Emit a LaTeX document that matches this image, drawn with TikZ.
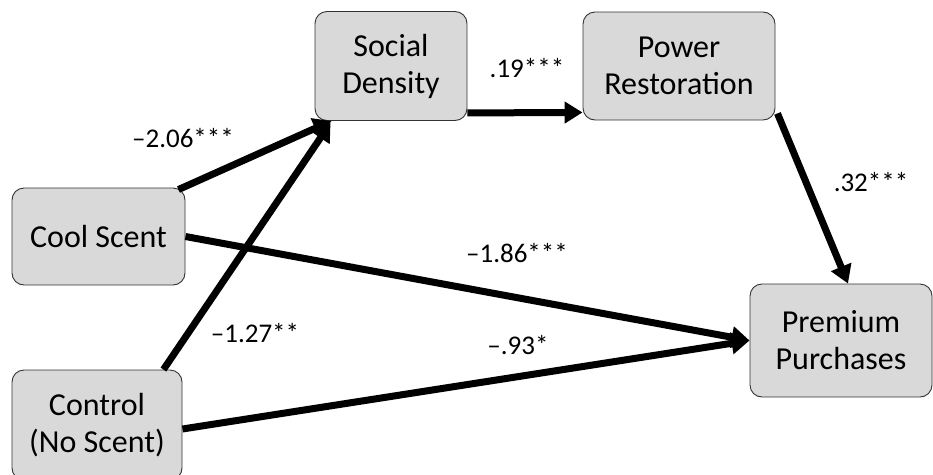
\documentclass[tikz,border=0pt]{standalone}
\usepackage{fontspec}
\setmainfont{Carlito}
\usetikzlibrary{arrows.meta}
\definecolor{boxgray}{HTML}{D9D9D9}
\begin{document}
\begin{tikzpicture}[x=1pt, y=-1pt,
    box/.style={draw=black!80, line width=0.9pt, fill=boxgray, rounded corners=12pt, align=center, inner sep=0pt, font=\fontsize{32}{37}\selectfont},
    lbl/.style={inner sep=0pt, font=\fontsize{27}{30}\selectfont},
    arr/.style={line width=7pt, -{Triangle[length=18pt,width=21pt]}}]
            \useasboundingbox (0,0) rectangle (933,474);

            \node[box, minimum width=152pt, minimum height=109pt] (social) at (391, 66) {Social\\Density};
            \node[box, minimum width=192pt, minimum height=108pt] (power) at (679, 66) {Power\\Restoration};
            \node[box, minimum width=173pt, minimum height=97pt] (cool) at (98.5, 236.5) {Cool Scent};
            \node[box, minimum width=170pt, minimum height=110pt] (control) at (97, 425) {Control\\(No Scent)};
            \node[box, minimum width=182pt, minimum height=113pt] (premium) at (841, 340.5) {Premium\\Purchases};

            \node[lbl] (l1) at (183, 138) {–2.06***};
            \node[lbl] (l2) at (527, 68) {.19***};
            \node[lbl] (l3) at (871, 182) {.32***};
            \node[lbl] (l4) at (517, 253) {–1.86***};
            \node[lbl] (l5) at (518, 345) {–.93*};
            \node[lbl] (l6) at (255, 333) {–1.27**};

            \draw[arr] ([xshift=-7pt,yshift=-2pt]cool.north east) -- ([xshift=17pt]social.south west);
            \draw[arr] ([xshift=-19pt]control.north east) -- ([xshift=16pt,yshift=-2pt]social.south west);
            \draw[arr] ([yshift=8pt]social.south east) -- ([yshift=8pt]power.south west);
            \draw[arr] ([xshift=2pt,yshift=7pt]power.south east) -- ([xshift=7pt]premium.north);
            \draw[arr] (cool.east) -- (premium.west);
            \draw[arr] ([yshift=-4pt]control.east) -- (premium.west);
        \end{tikzpicture}
\end{document}
